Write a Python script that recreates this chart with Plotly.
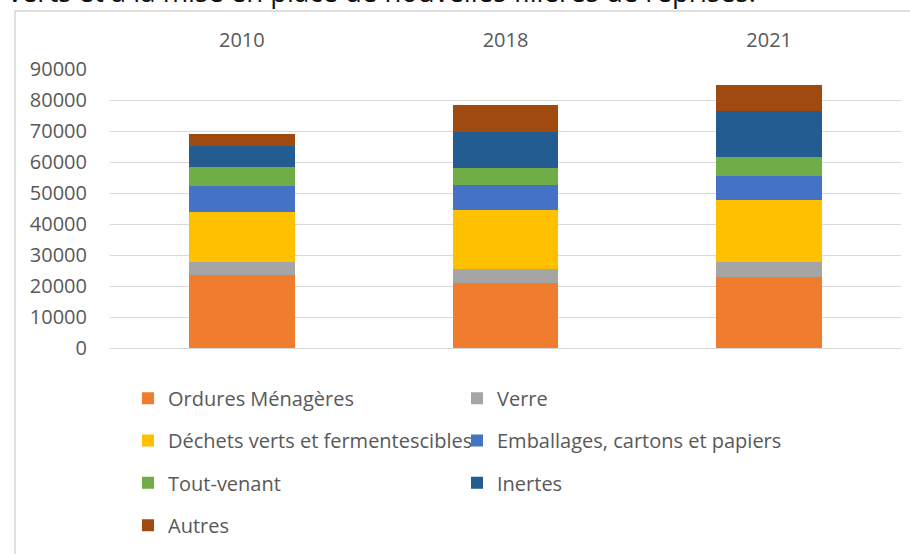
import plotly.graph_objects as go

# ---------------- data ----------------
years = ["2010", "2018", "2021"]
ordures_menageres = [23570, 21000, 22900]
verre = [4180, 4500, 4850]
dechets_verts = [16100, 19100, 19850]
emballages = [8570, 7830, 7950]
tout_venant = [6110, 5600, 6000]
inertes = [6770, 11580, 14900]
autres = [3760, 8800, 8470]

series_names = [
    "Ordures Ménagères",
    "Verre",
    "Déchets verts et fermentescibles",
    "Emballages, cartons et papiers",
    "Tout-venant",
    "Inertes",
    "Autres",
]
series_values = [ordures_menageres, verre, dechets_verts, emballages,
                 tout_venant, inertes, autres]
series_colors = ["#F07C2E", "#A5A5A5", "#FFC000", "#4472C4",
                 "#70AD47", "#225C91", "#A14A10"]
legend_column = ["legend", "legend2", "legend", "legend2",
                 "legend", "legend2", "legend"]
y_ticks = [0, 10000, 20000, 30000, 40000, 50000, 60000, 70000, 80000, 90000]

# ---------------- layout geometry (page pixels; body margin removed) ----------------
W, H = 910, 554
L, R = 110, 901      # plot area left / right
T, B = 69, 348.5     # plot area top / bottom


def px_x(p):
    return (p - L) / (R - L)


def px_y(p):
    return (B - p) / (B - T)


FONT = "Open Sans"
GREY = "#595959"
FS = 20

fig = go.Figure()
for name, vals, col, lg in zip(series_names, series_values, series_colors, legend_column):
    fig.add_trace(go.Bar(
        x=years, y=vals, name=name,
        marker=dict(color=col, line=dict(width=0)),
        legend=lg, legendgroup=name,
    ))

legend_common = dict(
    orientation="v", xanchor="left", yanchor="top",
    tracegroupgap=13.3, traceorder="grouped",
    font=dict(family=FONT, size=FS, color=GREY),
    bgcolor="rgba(0,0,0,0)", borderwidth=0,
)

fig.update_layout(
    width=W, height=H,
    margin=dict(l=L, r=W - R, t=T, b=H - B, pad=0),
    paper_bgcolor="white", plot_bgcolor="white",
    barmode="stack", bargap=0.6,
    font=dict(family=FONT, size=FS, color=GREY),
    xaxis=dict(
        side="top", type="category", showgrid=False, showline=False,
        zeroline=False, ticks="", ticklabelstandoff=17,
        tickfont=dict(family=FONT, size=FS, color=GREY),
    ),
    yaxis=dict(
        range=[0, 90000], tickvals=y_ticks, showgrid=True,
        gridcolor="#D9D9D9", gridwidth=1, zeroline=True,
        zerolinecolor="#D9D9D9", zerolinewidth=1, showline=False,
        ticks="", ticklabelstandoff=22, tickformat="d",
        tickfont=dict(family=FONT, size=FS, color=GREY),
    ),
    legend=dict(x=px_x(128), y=px_y(379.3), **legend_common),
    legend2=dict(x=px_x(457), y=px_y(379.3), **legend_common),
    shapes=[dict(
        type="rect", xref="paper", yref="paper",
        x0=px_x(15), x1=px_x(940), y0=px_y(600), y1=px_y(11),
        line=dict(color="#D6D6D6", width=1.5), fillcolor="rgba(0,0,0,0)",
        layer="below",
    )],
    annotations=[dict(
        text="verts et à la mise en place de nouvelles filières de reprises.",
        xref="paper", yref="paper", x=px_x(6), y=px_y(12.3),
        xanchor="left", yanchor="bottom", showarrow=False,
        font=dict(family=FONT, size=27.5, color="#111111"),
    )],
)

fig.write_html(
    "out.html",
    config={"displayModeBar": False},
    post_script="document.body.style.margin='0px';document.body.style.overflow='hidden';",
)
